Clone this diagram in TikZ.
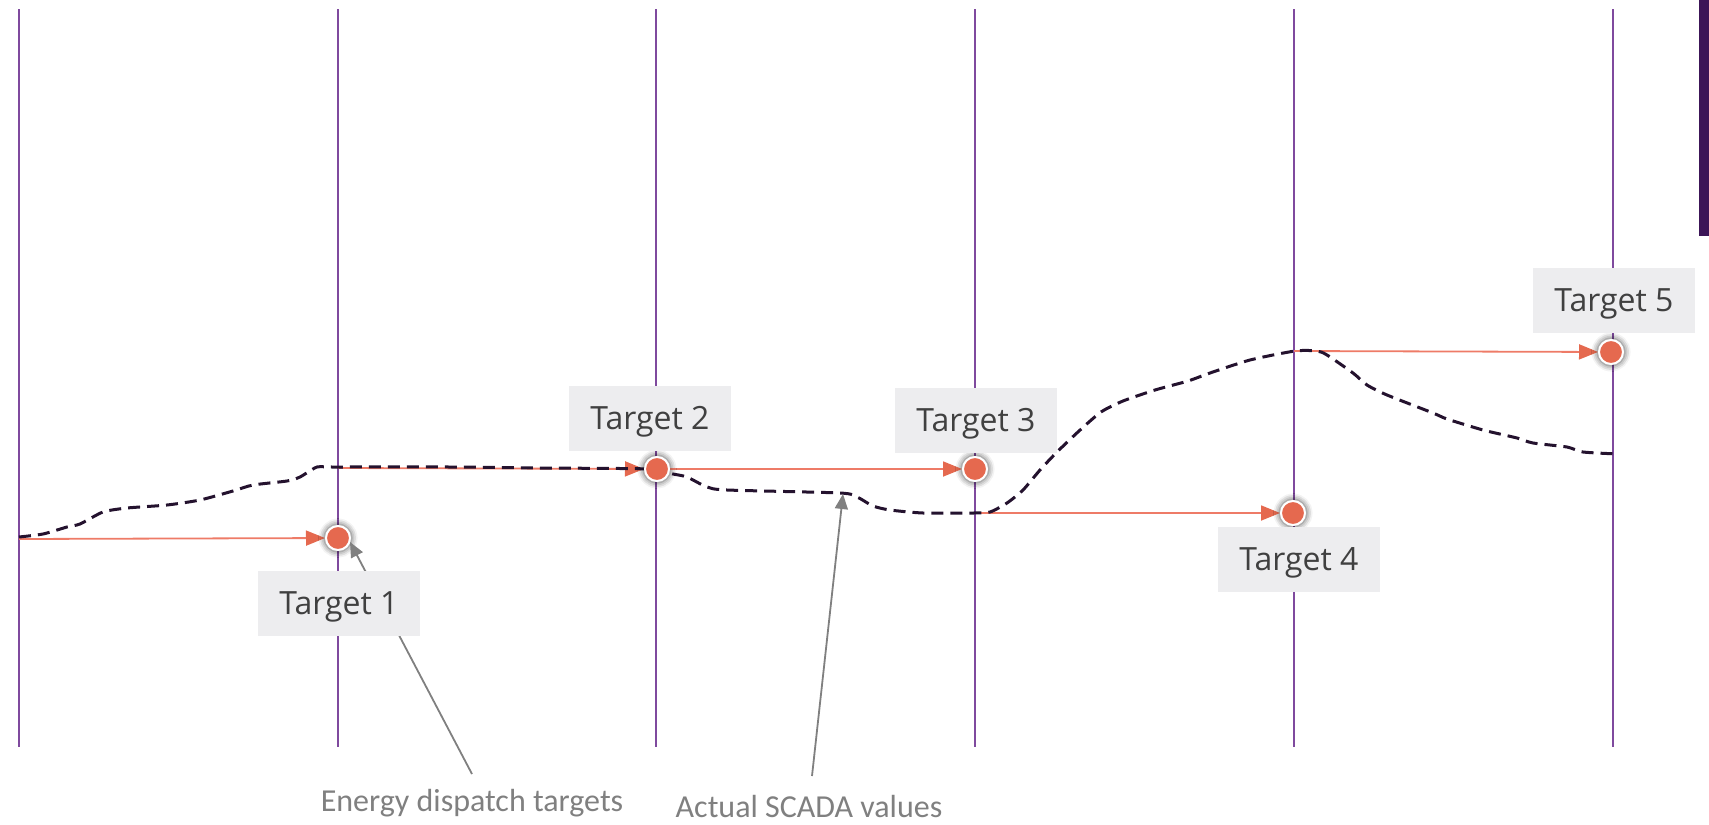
\documentclass[tikz,border=0pt]{standalone}
\usepackage{fontspec}
\newfontfamily\labelfont{Open Sans}
\newfontfamily\notefont{Carlito}
\usetikzlibrary{arrows.meta,shadows.blur}

\definecolor{gridpurple}{HTML}{7F4A9E}
\definecolor{barpurple}{HTML}{3C1557}
\definecolor{dotorange}{HTML}{E5694F}
\definecolor{lineorange}{HTML}{EE7B67}
\definecolor{scadadark}{HTML}{24122E}
\definecolor{labelgray}{HTML}{EDEDEF}
\definecolor{labeltext}{HTML}{404040}
\definecolor{notegray}{HTML}{808080}

\tikzset{
  gridline/.style={gridpurple, line width=1.6pt},
  targetdot/.style={circle, fill=dotorange, draw=white, line width=2pt,
    minimum size=24pt, inner sep=0pt,
    blur shadow={shadow xshift=0pt, shadow yshift=0pt,
      shadow blur radius=5pt, shadow opacity=35, shadow scale=1.15}},
  targetlabel/.style={fill=labelgray, text=labeltext, minimum width=162pt,
    minimum height=65pt, inner sep=0pt, text depth=0pt,
    font=\labelfont\fontsize{32}{38}\selectfont},
  targetarrow/.style={lineorange, line width=1.8pt,
    -{Triangle[length=19pt,width=15pt,color=dotorange]}},
  scadaline/.style={scadadark, line width=3pt, dash pattern=on 12pt off 7pt},
  notearrow/.style={notegray, line width=1.8pt, -{Triangle[length=15pt,width=13pt]}},
  notetext/.style={text=notegray, inner sep=0pt,
    font=\notefont\fontsize{32}{38}\selectfont}
}

\begin{document}
\begin{tikzpicture}[x=1pt, y=-1pt]
  \useasboundingbox (0,0) rectangle (1709,825);

  % Interval lines
  \foreach \x in {19,338,656,975,1294,1613}
    \draw[gridline] (\x,9) -- (\x,747);
  \fill[barpurple] (1699,0) rectangle (1709,236);

  % Target points
  \node[targetdot] (t1) at (338,538) {};
  \node[targetdot] (t2) at (657,469) {};
  \node[targetdot] (t3) at (975,469) {};
  \node[targetdot] (t4) at (1293,513) {};
  \node[targetdot] (t5) at (1611,352) {};

  % Start of each dispatch interval
  \coordinate (s1) at (19,539);
  \coordinate (s2) at (338,468);
  \coordinate (s4) at (975,513);
  \coordinate (s5) at (1294,351);

  % Dispatch arrows
  \draw[targetarrow] (s1) -- (t1);
  \draw[targetarrow] (s2) -- (t2);
  \draw[targetarrow] (t2) -- (t3);
  \draw[targetarrow] (s4) -- (t4);
  \draw[targetarrow] (s5) -- (t5);

  % SCADA curve
  \draw[scadaline] plot[smooth, tension=0.4] coordinates {
    (19,537) (43,534) (67,527) (80,524) (103,512) (127,508) (167,505)
    (200,500) (233,491) (253,485) (287,481) (300,477) (317,467) (333,467)
    (450,467) (540,468) (650,469) (673,474) (687,477) (707,487) (727,490)
    (840,493) (857,497) (873,506) (890,510) (923,513) (973,513) (990,512)
    (1007,503) (1023,490) (1040,470) (1057,452) (1079,431) (1101,412)
    (1123,401) (1155,390) (1188,381) (1210,373) (1250,360) (1295,351)
    (1317,351) (1327,355) (1353,373) (1367,385) (1387,395) (1433,413)
    (1447,419) (1483,430) (1517,438) (1533,443) (1567,447) (1583,452)
    (1618,454)};

  % Dots again on top of the curve
  \foreach \t in {t1,t2,t3,t4,t5}
    \node[targetdot] at (\t) {};

  % Notes
  \node[notetext] (n1) at (472,803) {Energy dispatch targets};
  \node[notetext] (n2) at (809,806) {Actual SCADA values};
  \coordinate (a1) at (472,774);
  \coordinate (p1) at (350,542);
  \coordinate (a2) at (812,776);
  \coordinate (p2) at (843,494);
  \draw[notearrow] (a1) -- (p1);
  \draw[notearrow] (a2) -- (p2);

  % Labels
  \node[targetlabel] (l1) at (339,603) {Target 1};
  \node[targetlabel] (l2) at (650,418) {Target 2};
  \node[targetlabel] (l3) at (976,420) {Target 3};
  \node[targetlabel] (l4) at (1299,559) {Target 4};
  \node[targetlabel] (l5) at (1614,300) {Target 5};
\end{tikzpicture}
\end{document}
